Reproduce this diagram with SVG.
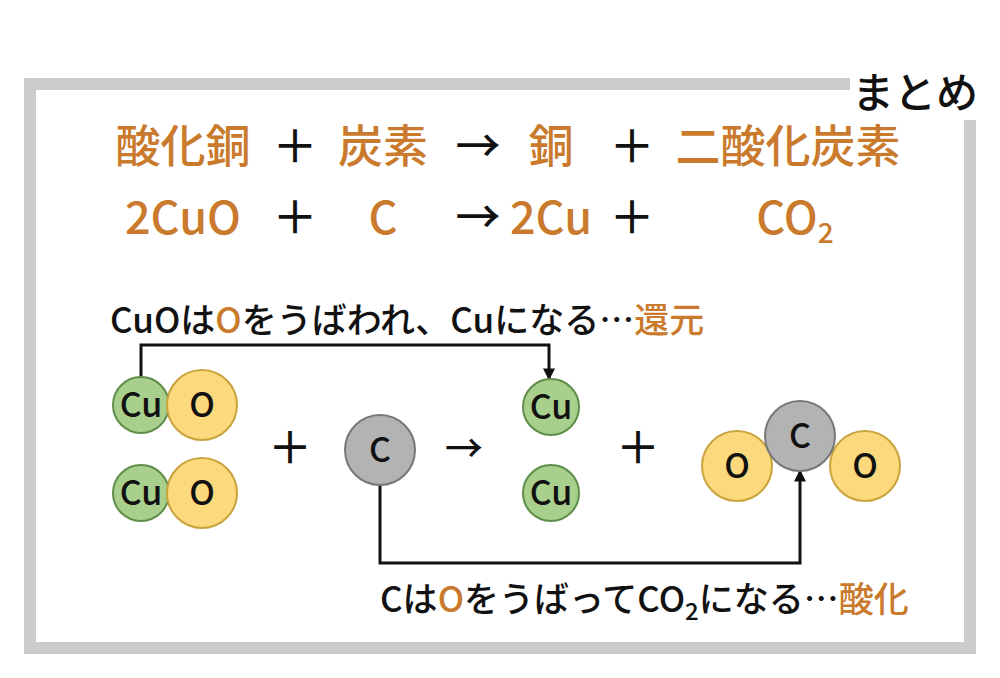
<svg xmlns="http://www.w3.org/2000/svg" width="1000" height="678" viewBox="0 0 1000 678">
<style>
text{font-family:"Noto Sans CJK JP","Noto Sans",sans-serif;font-weight:500}
.or{fill:#c97a2c}
.k{fill:#111}
.big{font-size:45px}
.lab{font-size:35px}
.at{font-size:34px;text-anchor:middle;fill:#111}
.cu{fill:#a9cf8c;stroke:#5f8e4b;stroke-width:2}
.o{fill:#fbd97c;stroke:#c9a33c;stroke-width:2}
.c{fill:#b3b3b3;stroke:#777;stroke-width:2}
.ln{fill:none;stroke:#111;stroke-width:3}
</style>
<defs><marker id="ah" markerWidth="12" markerHeight="12" refX="8" refY="5" orient="auto" markerUnits="userSpaceOnUse" viewBox="0 0 10 10"><path d="M0,0 L10,5 L0,10 z" fill="#111"/></marker></defs>
<rect width="1000" height="678" fill="#fff"/>
<g id="frame" fill="none" stroke="#cccccc" stroke-width="12">
<path d="M850,84 H30 V648 H970 V120"/>
</g>
<text x="915" y="108" font-size="42" text-anchor="middle" class="k">まとめ</text>
<g id="eq-words" class="big">
<text x="183" y="163" text-anchor="middle" class="or">酸化銅</text>
<text x="295" y="163" text-anchor="middle" class="k">＋</text>
<text x="383" y="163" text-anchor="middle" class="or">炭素</text>
<text x="478" y="163" text-anchor="middle" class="k">→</text>
<text x="551" y="163" text-anchor="middle" class="or">銅</text>
<text x="632" y="163" text-anchor="middle" class="k">＋</text>
<text x="788" y="163" text-anchor="middle" class="or">二酸化炭素</text>
</g>
<g id="eq-formula" class="big">
<text x="183" y="234" text-anchor="middle" class="or">2CuO</text>
<text x="295" y="234" text-anchor="middle" class="k">＋</text>
<text x="383" y="234" text-anchor="middle" class="or">C</text>
<text x="478" y="234" text-anchor="middle" class="k">→</text>
<text x="551" y="234" text-anchor="middle" class="or">2Cu</text>
<text x="632" y="234" text-anchor="middle" class="k">＋</text>
<text x="795" y="234" text-anchor="middle" class="or">CO<tspan font-size="28" dy="9">2</tspan></text>
</g>
<text id="label-reduction" x="110" y="333" class="lab k">CuOは<tspan class="or">O</tspan>をうばわれ、Cuになる…<tspan class="or">還元</tspan></text>
<text id="label-oxidation" x="380" y="612" class="lab k">Cは<tspan class="or">O</tspan>をうばってCO<tspan font-size="24" dy="8">2</tspan><tspan dy="-8">になる…</tspan><tspan class="or">酸化</tspan></text>
<g id="connectors">
<path class="ln" d="M141,377 V345 H549 V378" marker-end="url(#ah)"/>
<path class="ln" d="M380,485 V563 H800 V472" marker-end="url(#ah)"/>
</g>
<g id="cuo1"><circle class="cu" cx="141" cy="405" r="28"/><circle class="o" cx="202" cy="405" r="35"/>
<text class="at" x="141" y="417">Cu</text><text class="at" x="202" y="417">O</text></g>
<g id="cuo2"><circle class="cu" cx="141" cy="493" r="28"/><circle class="o" cx="202" cy="493" r="35"/>
<text class="at" x="141" y="505">Cu</text><text class="at" x="202" y="505">O</text></g>
<text x="290" y="464" font-size="44" text-anchor="middle" class="k">＋</text>
<g id="carbon"><circle class="c" cx="380" cy="450" r="35"/><text class="at" x="380" y="462">C</text></g>
<text x="464" y="462" font-size="38" text-anchor="middle" class="k">→</text>
<g id="cu1"><circle class="cu" cx="551" cy="407" r="28"/><text class="at" x="551" y="419">Cu</text></g>
<g id="cu2"><circle class="cu" cx="551" cy="493" r="28"/><text class="at" x="551" y="505">Cu</text></g>
<text x="638" y="464" font-size="44" text-anchor="middle" class="k">＋</text>
<g id="co2"><circle class="o" cx="737" cy="466" r="35"/><circle class="o" cx="865" cy="466" r="35"/><circle class="c" cx="800" cy="436" r="35"/>
<text class="at" x="737" y="478">O</text><text class="at" x="865" y="478">O</text><text class="at" x="800" y="448">C</text></g>
</svg>
